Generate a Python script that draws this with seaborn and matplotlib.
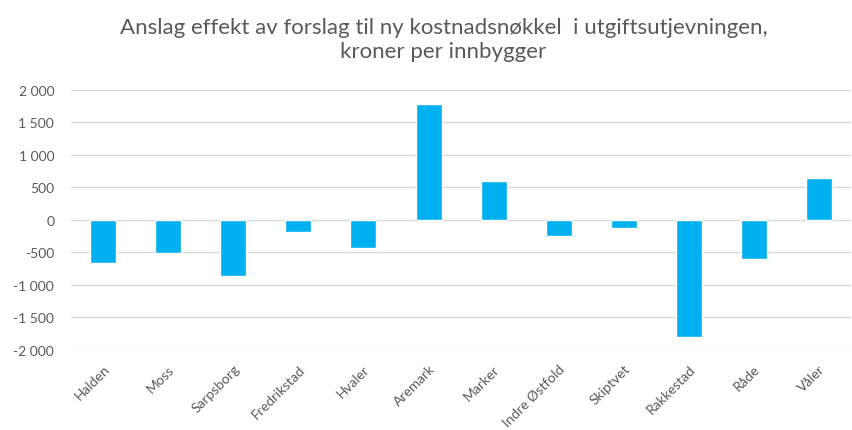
import matplotlib
matplotlib.use("Agg")
import matplotlib.pyplot as plt
import seaborn as sns
import pandas as pd

# kommuner og anslått effekt (kr per innbygger)
kommuner = ["Halden", "Moss", "Sarpsborg", "Fredrikstad", "Hvaler", "Aremark",
            "Marker", "Indre Østfold", "Skiptvet", "Rakkestad", "Råde", "Våler"]
effekt = [-660, -505, -867, -190, -428, 1790, 600, -242, -128, -1795, -595, 651]
yticks = [-2000, -1500, -1000, -500, 0, 500, 1000, 1500, 2000]

df = pd.DataFrame({"kommune": kommuner, "effekt": effekt})

sns.set_style("white")
plt.rcParams["font.family"] = ["Lato", "DejaVu Sans"]
grey = "#595959"

fig = plt.figure(figsize=(8.53, 4.31), dpi=100)
ax = fig.add_axes([0.083, 0.186, 0.915, 0.603])

sns.barplot(data=df, x="kommune", y="effekt", color="#00B0F0", width=0.4,
            saturation=1, ax=ax, zorder=3)

ax.set_ylim(-2000, 2000)
ax.set_xlim(-0.5, len(kommuner) - 0.5)
ax.set_yticks(yticks)
ax.set_yticklabels([f"{v:,}".replace(",", " ") for v in yticks], color=grey, fontsize=10)
ax.yaxis.grid(True, color="#d9d9d9", linewidth=1, zorder=0)
ax.tick_params(axis="both", length=0)
ax.tick_params(axis="y", pad=12)
plt.setp(ax.get_xticklabels(), rotation=45, ha="right", rotation_mode="anchor",
         color=grey, fontsize=10)
ax.tick_params(axis="x", pad=9)
ax.set_xlabel("")
ax.set_ylabel("")
sns.despine(ax=ax, left=True, bottom=True, top=True, right=True)

fig.text(0.52, 0.908, "Anslag effekt av forslag til ny kostnadsnøkkel  i utgiftsutjevningen,\nkroner per innbygger",
         ha="center", va="center", fontsize=16, color=grey, linespacing=1.25)

fig.savefig("out.png", dpi=100)
